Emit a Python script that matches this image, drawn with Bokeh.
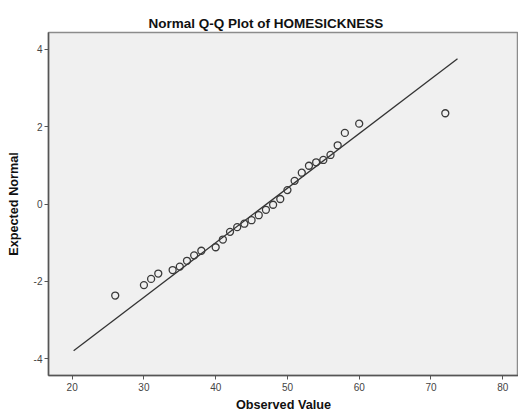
from bokeh.plotting import figure
from bokeh.models import Range1d, FixedTicker, Title
from bokeh.embed import file_html
from bokeh.resources import INLINE

# Data
observed = [26, 30, 31, 32, 34, 35, 36, 37, 38, 40, 41, 42, 43, 44, 45,
            46, 47, 48, 49, 50, 51, 52, 53, 54, 55, 56, 57, 58, 60, 72]
expected = [-2.37, -2.10, -1.94, -1.80, -1.71, -1.62, -1.47, -1.33, -1.21, -1.12,
            -0.92, -0.72, -0.60, -0.51, -0.42, -0.29, -0.15, -0.02, 0.13, 0.36,
            0.60, 0.81, 0.99, 1.08, 1.14, 1.27, 1.52, 1.84, 2.08, 2.35]
line_observed = [20.2, 73.7]
line_expected = [-3.80, 3.76]
x_ticks = [20, 30, 40, 50, 60, 70, 80]
y_ticks = [-4, -2, 0, 2, 4]
y_tick_labels = ["-4", "-2", "0", "2", "4"]

FONT = "Liberation Sans"

p = figure(width=518, height=414, output_backend="svg", toolbar_location=None,
           x_range=Range1d(16.7, 82.2), y_range=Range1d(-4.44, 4.44),
           min_border_left=48, min_border_right=0, min_border_top=32,
           min_border_bottom=36)

p.background_fill_color = "#f0f0f0"
p.border_fill_color = "white"
p.outline_line_color = "#8c8c8c"
p.outline_line_width = 1.5
p.grid.visible = False

t = Title(text="Normal Q-Q Plot of HOMESICKNESS", align="left", offset=100,
          text_font=FONT, text_font_size="13.5px", text_font_style="bold",
          text_color="#111111", standoff=4)
p.add_layout(t, "above")

for ax, ticks in ((p.xaxis[0], x_ticks), (p.yaxis[0], y_ticks)):
    ax.ticker = FixedTicker(ticks=ticks)
    ax.minor_tick_line_color = None
    ax.major_tick_in = 0
    ax.major_tick_out = 4
    ax.major_tick_line_color = "#555555"
    ax.axis_line_color = "#555555"
    ax.axis_line_width = 1.5
    ax.major_label_text_font = FONT
    ax.major_label_text_font_size = "10px"
    ax.major_label_text_color = "#444444"
    ax.axis_label_text_font = FONT
    ax.axis_label_text_font_style = "bold"
    ax.axis_label_text_font_size = "12.7px"
    ax.axis_label_text_color = "#111111"

p.yaxis.major_label_overrides = {v: s for v, s in zip(y_ticks, y_tick_labels)}
p.xaxis.axis_label = "Observed Value"
p.yaxis.axis_label = "Expected Normal"
p.xaxis.major_label_standoff = 3
p.xaxis.axis_label_standoff = 4
p.yaxis.major_label_standoff = 2
p.yaxis.axis_label_standoff = 10

p.line(line_observed, line_expected, line_color="#333333", line_width=1.3)
p.scatter(observed, expected, size=7, marker="circle", fill_color=None,
          line_color="#3a3a3a", line_width=1.3)

open("out.html", "w").write(file_html(p, INLINE))
